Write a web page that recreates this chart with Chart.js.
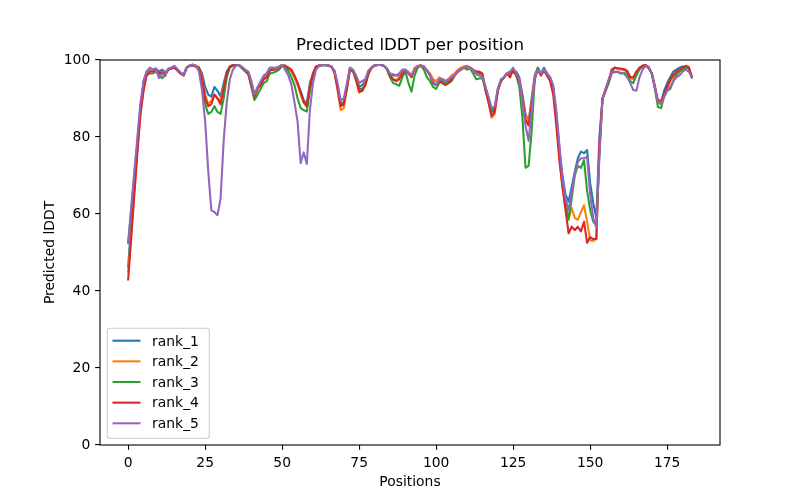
<!DOCTYPE html>
<html>
<head>
<meta charset="utf-8">
<title>Predicted lDDT per position</title>
<script src="https://cdn.jsdelivr.net/npm/chart.js@4.4.1/dist/chart.umd.min.js"></script>
<style>
    html, body { margin: 0; padding: 0; background: #ffffff; }
    #wrap { width: 800px; height: 500px; }
</style>
</head>
<body>
<div id="wrap"><canvas id="plddtChart" width="800" height="500"></canvas></div>
<script>
// per-residue lDDT for each model rank (positions 0..183)
const rank1 = [
    46.3, 58, 68, 78, 87, 94.5, 97, 97.8, 97.5, 97.8,
    97, 97.5, 96.8, 97.5, 98, 98.3, 97.5, 96.5, 96.2, 98,
    98.6, 98.8, 98.5, 98, 96.5, 93, 91, 90.5, 93, 92,
    90.5, 94, 97, 98.3, 98.7, 98.7, 98.7, 98, 97.3, 96.6,
    94, 91, 92.5, 94, 95.5, 96.5, 98, 98, 98, 98.3,
    98.7, 98.5, 97.8, 97, 95.5, 94, 92, 89.5, 88.8, 94,
    96.5, 98.3, 98.6, 98.7, 98.7, 98.6, 98.3, 97, 93, 88.5,
    89, 93, 98, 97.3, 95, 93, 93.5, 94.5, 97, 98,
    98.6, 98.7, 98.7, 98.5, 97.8, 96.5, 96, 96, 96, 97,
    97.3, 96.5, 96, 97.5, 98.3, 98.6, 98.3, 97.3, 96, 94,
    93.5, 94.5, 95, 94.5, 94.5, 95, 96, 97, 97.5, 98,
    98.3, 98, 97.3, 97, 96.5, 96, 93, 90, 86.5, 87,
    92, 94.5, 95.5, 96.5, 97, 96.8, 97, 95.5, 91, 86,
    84, 90, 96, 98, 96.5, 98, 96.5, 95.5, 93, 86,
    77, 70, 65, 63.2, 67, 71, 74.5, 76.2, 75.8, 76.6,
    68, 62.8, 59, 80, 90, 92.5, 94.5, 97, 98, 97.8,
    97.6, 97.5, 97, 95.5, 95, 96.5, 97.8, 98.5, 98.7, 98.2,
    96.5, 93, 89, 88.8, 92, 94, 95.5, 97, 97.5, 98,
    98.3, 98.2, 98, 95.7
];
const rank2 = [
    45, 55, 66, 77, 86, 93, 96.5, 97.5, 97.5, 97.5,
    96.5, 97, 96.5, 97.5, 97.8, 98.2, 97.5, 96.5, 96, 98,
    98.5, 98.6, 98.5, 98, 95.5, 91, 88.5, 89.5, 91, 90,
    89.5, 93, 96.5, 98.3, 98.6, 98.7, 98.7, 98, 97.3, 96.5,
    93.5, 90.5, 92.5, 94, 95, 96, 97.7, 97.7, 98, 98.3,
    98.7, 98.5, 98, 97.3, 95.5, 93.5, 91, 89, 87.8, 93,
    96.5, 98.3, 98.6, 98.7, 98.7, 98.6, 98.3, 96.5, 92, 87,
    87.5, 92.5, 97.5, 97.3, 94.5, 91.5, 92, 94, 96.5, 98,
    98.6, 98.7, 98.7, 98.5, 97.8, 96, 95, 94.8, 95.5, 97,
    97.5, 97, 96, 98, 98.5, 98.6, 98.3, 97.3, 96.5, 95,
    94.5, 95.5, 95, 94.5, 95, 96, 96.5, 97.5, 98, 98.3,
    98.5, 98, 97, 96.5, 96, 96, 92.5, 89, 85, 86,
    92, 94.5, 95.5, 96.5, 96.5, 97.5, 96.5, 95, 90, 85.5,
    84, 89, 95.5, 97.5, 96.5, 97.5, 96, 95, 92.5, 84.5,
    75, 67, 62, 59, 61.5, 59, 58.5, 60.5, 62.3, 58,
    53.2, 53, 53.5, 78, 90, 92.5, 94.5, 97.5, 98, 97.8,
    97.5, 97.5, 97, 95.5, 95, 96.5, 97.8, 98.5, 98.7, 98,
    96.5, 93.5, 89, 88.5, 90.5, 92.5, 94.5, 95.5, 96.5, 97.5,
    97.8, 98.2, 98, 95.5
];
const rank3 = [
    52.5, 61, 70, 79, 88, 94, 96, 96.5, 96.5, 97,
    96, 95.3, 96, 97.5, 97.8, 98, 97.3, 96.5, 96, 98,
    98.5, 98.6, 98.2, 97.5, 94, 88.5, 86, 86.5, 88, 86.5,
    86, 90, 95.5, 98, 98.5, 98.7, 98.6, 97.8, 97, 96.3,
    93, 89.6, 91, 92.5, 94, 94.5, 96.5, 96.7, 97, 97.5,
    98.5, 98.3, 97, 95.5, 93.5, 90, 87.5, 87, 86.6, 92,
    96, 98, 98.5, 98.6, 98.6, 98.5, 98.2, 97, 93, 88.5,
    89, 93, 97.5, 97, 95, 92.5, 92.5, 93.5, 96.3, 98,
    98.5, 98.7, 98.7, 98.5, 97.5, 95.5, 94, 93.7, 93.3, 95.5,
    97, 94, 91.8, 96, 98, 98.5, 97.5, 95.5, 94.5, 93,
    92.5, 94, 94.5, 94, 94, 94.5, 96, 97, 97.5, 98,
    97.5, 97.8, 96.5, 95, 95.2, 95.2, 92.5, 89.5, 87, 87.5,
    92.5, 94.5, 95.5, 96.5, 96.5, 97, 96, 93, 85, 72,
    72.5, 81.5, 95, 98, 96, 97.5, 96, 95, 92.5, 85,
    76, 68, 63, 58.5, 64, 70, 72.5, 72, 74, 66,
    61, 58, 57, 76, 90, 92, 94, 96.5, 97, 96.8,
    96.5, 96.7, 96.3, 94.5, 94, 96, 97.5, 98.3, 98.5, 97.8,
    96.5, 92.5, 87.8, 87.5, 90.5, 92, 92.5, 94.5, 96, 97,
    97.5, 98, 97.8, 95.5
];
const rank4 = [
    43, 54, 65, 76, 86, 92, 96, 97, 97, 97.5,
    96.5, 96.8, 96.3, 97.5, 97.8, 98, 97.3, 96.5, 96, 98,
    98.5, 98.6, 98.3, 98, 95, 90, 88, 88.5, 91, 90,
    88.5, 92.5, 96.5, 98.3, 98.6, 98.7, 98.7, 98, 97.3, 96.5,
    93.5, 90.5, 92.5, 93.5, 95, 95.5, 97.3, 97.5, 97.5, 98,
    98.5, 98.5, 98, 97.5, 96, 94, 91.5, 89, 88, 93,
    96.5, 98.3, 98.6, 98.7, 98.7, 98.6, 98.3, 96.8, 92.5, 88,
    88.5, 92.5, 97.5, 97.3, 95, 91.8, 92, 93.5, 96.5, 98,
    98.6, 98.7, 98.7, 98.5, 97.8, 96, 95, 94.5, 95, 96.5,
    97.3, 96.5, 95.5, 97.5, 98.3, 98.6, 98.3, 97.3, 96, 94,
    93.5, 94.5, 94, 93.5, 94, 95, 96, 97, 97.5, 98,
    98.3, 98, 97.5, 97, 97, 96.5, 92, 89, 85.5, 86.5,
    92, 94.5, 95.5, 96.5, 95.5, 97.5, 96, 94.5, 90, 84.5,
    83, 88.5, 95, 97.5, 96, 97.3, 96, 94.5, 91, 83,
    74, 67, 61, 55, 56.7, 55.8, 56.7, 55.5, 58, 52.5,
    54, 53.5, 53.5, 78, 90, 92, 94.5, 97.5, 98, 97.8,
    97.8, 97.6, 97.2, 95.5, 95.5, 97, 98, 98.5, 98.7, 98,
    96.5, 93, 89.5, 89.5, 91, 93, 95, 96, 97, 97.5,
    98, 98.5, 98.2, 95.5
];
const rank5 = [
    52.5, 62, 71, 80, 89, 94.5, 97, 98, 97.5, 97.8,
    95.3, 96.5, 95.8, 97.8, 98, 98.5, 97.6, 96.8, 96.2, 98,
    98.6, 98.8, 98.5, 97, 92, 84, 71, 61, 60.5, 59.7,
    64, 79, 89, 95, 97.5, 98.5, 98.7, 98.2, 97.5, 97,
    94.5, 91, 93, 94.5, 96, 96.5, 98, 98, 97.8, 98.3,
    98.7, 97.4, 96, 93.5, 89, 84, 73.2, 76, 73, 87,
    94, 97.5, 98.5, 98.7, 98.7, 98.6, 98.3, 97.3, 94, 89.5,
    90, 94, 98, 97.5, 96, 94, 94.5, 95, 97.3, 98,
    98.6, 98.7, 98.7, 98.5, 97.8, 96.5, 96.3, 96, 96.5, 97.5,
    97.5, 96.5, 96, 97.5, 98.3, 98.6, 98.3, 97.3, 96, 94.5,
    93.5, 95, 95, 94.5, 95, 95.5, 96, 97, 97.5, 98,
    98.3, 97.8, 97.5, 96.3, 96, 95.5, 93, 90.5, 87.5, 88,
    92.5, 95, 95.5, 96.5, 97, 98, 96.5, 95, 89, 83,
    79, 87, 95.5, 97.5, 96.5, 97.5, 96.5, 95.5, 93.5, 87,
    78, 69, 64, 61, 65.5, 70.5, 73.5, 74.5, 74.5, 74.8,
    65, 59, 56.5, 75, 90, 92.5, 95, 97, 96.8, 97,
    96.6, 96.5, 95.5, 94, 92.2, 92, 95.5, 97.5, 98.5, 98,
    96.5, 93, 89, 88.6, 90.5, 92, 93, 94.5, 95.5, 96,
    97, 97.5, 97, 95.5
];

const seriesLabels = ['rank_1', 'rank_2', 'rank_3', 'rank_4', 'rank_5'];
const seriesColors = ['#1f77b4', '#ff7f0e', '#2ca02c', '#d62728', '#9467bd'];
const xTickValues = [0, 25, 50, 75, 100, 125, 150, 175];
const yTickValues = [0, 20, 40, 60, 80, 100];

const FONT = 'DejaVu Sans';

Chart.defaults.font.family = FONT;
Chart.defaults.font.size = 13.89;
Chart.defaults.color = '#000000';

/**
 * Axes frame (all four spines, like matplotlib)
 */
const frameBox = {
    id: 'frameBox',
    afterDatasetsDraw(chart) {
        const { ctx, chartArea: a } = chart;
        ctx.save();
        ctx.strokeStyle = '#000000';
        ctx.lineWidth = 1.1;
        ctx.strokeRect(a.left, a.top, a.right - a.left, a.bottom - a.top);
        ctx.restore();
    }
};

/**
 * Legend drawn inside the plot, lower left
 */
const insideLegend = {
    id: 'insideLegend',
    afterDraw(chart) {
        const { ctx, chartArea: a } = chart;
        const sets = chart.data.datasets;
        const x = a.left + 7.3;
        const w = 102;
        const rowH = 20.65;
        const h = 110;
        const y = a.bottom - 6.7 - h;

        ctx.save();
        ctx.beginPath();
        ctx.roundRect(x, y, w, h, 2.8);
        ctx.fillStyle = 'rgba(255,255,255,0.8)';
        ctx.fill();
        ctx.strokeStyle = '#cccccc';
        ctx.lineWidth = 1.1;
        ctx.stroke();

        sets.forEach((ds, i) => {
            const ry = y + 12.4 + i * rowH;
            ctx.beginPath();
            ctx.moveTo(x + 5.2, ry);
            ctx.lineTo(x + 33.2, ry);
            ctx.strokeStyle = ds.borderColor;
            ctx.lineWidth = 2.08;
            ctx.stroke();

            ctx.fillStyle = '#000000';
            ctx.font = `13.89px "${FONT}"`;
            ctx.textAlign = 'left';
            ctx.textBaseline = 'alphabetic';
            ctx.fillText(ds.label, x + 44.8, ry + 4.8);
        });
        ctx.restore();
    }
};

const allRanks = [rank1, rank2, rank3, rank4, rank5];

const datasets = allRanks.map((values, idx) => ({
    label: seriesLabels[idx],
    data: values.map((v, pos) => ({ x: pos, y: v })),
    borderColor: seriesColors[idx],
    backgroundColor: seriesColors[idx],
    borderWidth: 2.08,
    borderJoinStyle: 'round',
    borderCapStyle: 'square',
    pointRadius: 0,
    pointHoverRadius: 0,
    tension: 0,
    fill: false,
    // later ranks sit on top, as in the original plot
    order: allRanks.length - idx
}));

const axisTicks = {
    display: true,
    drawOnChartArea: false,
    drawTicks: true,
    tickLength: 4.86,
    color: '#000000',
    lineWidth: 1.1
};

new Chart(document.getElementById('plddtChart'), {
    type: 'line',
    data: { datasets },
    options: {
        responsive: false,
        animation: false,
        devicePixelRatio: 1,
        layout: { padding: { left: 0, right: 80, top: 0, bottom: 0 } },
        plugins: {
            legend: { display: false },
            tooltip: { enabled: false },
            title: {
                display: true,
                text: 'Predicted lDDT per position',
                fullSize: false,
                color: '#000000',
                font: { family: FONT, size: 16.67, weight: 'normal' },
                padding: { top: 35.9, bottom: 4.1 }
            }
        },
        scales: {
            x: {
                type: 'linear',
                position: 'bottom',
                min: -9.15,
                max: 192.15,
                afterBuildTicks: (scale) => {
                    scale.ticks = xTickValues.map(v => ({ value: v }));
                },
                afterFit: (scale) => { scale.height = 55; },
                grid: axisTicks,
                border: { display: false },
                ticks: { padding: 4.86, maxRotation: 0, autoSkip: false, color: '#000000' },
                title: {
                    display: true,
                    text: 'Positions',
                    color: '#000000',
                    font: { family: FONT, size: 13.89 },
                    padding: { top: 0, bottom: 9 }
                }
            },
            y: {
                type: 'linear',
                min: 0,
                max: 100,
                afterBuildTicks: (scale) => {
                    scale.ticks = yTickValues.map(v => ({ value: v }));
                },
                afterFit: (scale) => { scale.width = 100; },
                grid: axisTicks,
                border: { display: false },
                ticks: { padding: 4.86, autoSkip: false, color: '#000000' },
                title: {
                    display: true,
                    text: 'Predicted lDDT',
                    color: '#000000',
                    font: { family: FONT, size: 13.89 },
                    padding: { top: 41.7, bottom: 0 }
                }
            }
        }
    },
    plugins: [frameBox, insideLegend]
});
</script>
</body>
</html>
